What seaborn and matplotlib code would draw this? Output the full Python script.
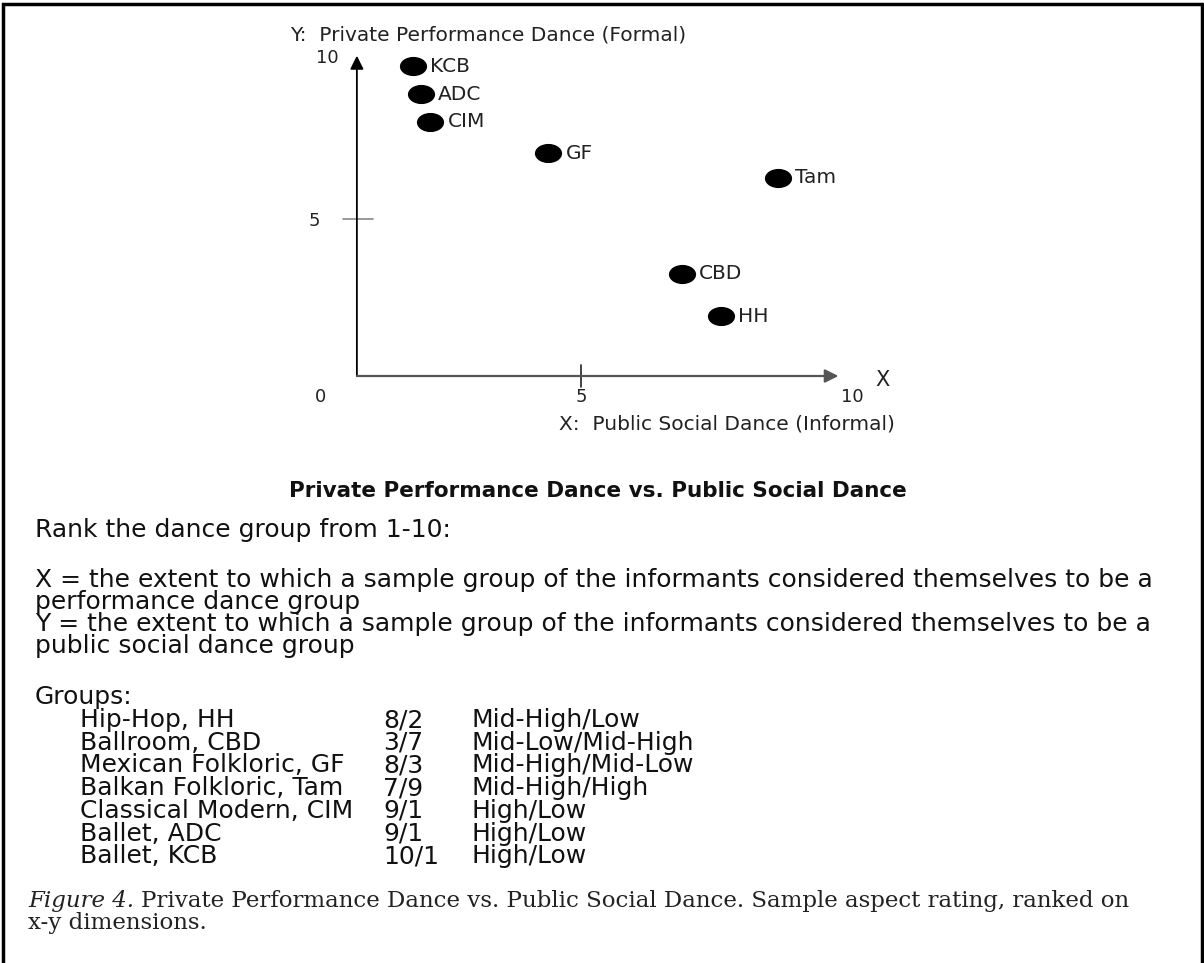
import numpy as np
import pandas as pd
import matplotlib
matplotlib.use("Agg")
import matplotlib.pyplot as plt
import seaborn as sns
from matplotlib.markers import MarkerStyle
from matplotlib.transforms import Affine2D
from matplotlib.patches import Rectangle

# dance groups as placed on the chart (x = public social / informal, y = private performance / formal)
groups = ['KCB', 'ADC', 'CIM', 'GF', 'Tam', 'CBD', 'HH']
x_informal = [1.77, 1.92, 2.10, 4.37, 8.79, 6.94, 7.69]
y_formal = [9.87, 8.98, 8.09, 7.10, 6.31, 3.25, 1.91]

x_ticks = [0, 5, 10]
y_ticks = [5, 10]

table_names = ['Hip-Hop, HH', 'Ballroom, CBD', 'Mexican Folkloric, GF', 'Balkan Folkloric, Tam',
               'Classical Modern, CIM', 'Ballet, ADC', 'Ballet, KCB']
table_ratings = ['8/2', '3/7', '8/3', '7/9', '9/1', '9/1', '10/1']
table_levels = ['Mid-High/Low', 'Mid-Low/Mid-High', 'Mid-High/Mid-Low', 'Mid-High/High',
                'High/Low', 'High/Low', 'High/Low']

df = pd.DataFrame({'group': groups, 'x': x_informal, 'y': y_formal})

sns.set_style('white')
plt.rcParams['font.family'] = 'DejaVu Sans'

W, H = 1204, 963
fig = plt.figure(figsize=(W / 100, H / 100), dpi=100)

def fx(px):
    return px / W

def fy(py):
    return 1 - py / H

# axes placed so that x=0 sits at 321px and y=0 at 376px
ax = fig.add_axes([fx(300), fy(440), 600 / W, 410 / H])
ax.set_xlim((300 - 321) / 52, (900 - 321) / 52)
ax.set_ylim((376 - 440) / 31.4, (376 - 30) / 31.4)
ax.axis('off')

ellipse = MarkerStyle('o', transform=Affine2D().scale(1.42, 1.0))
sns.scatterplot(data=df, x='x', y='y', ax=ax, color='black', s=190,
                marker=ellipse, linewidth=0, legend=False, zorder=3)

for _, row in df.iterrows():
    ax.annotate(row['group'], (row['x'], row['y']), xytext=(12.5, 0),
                textcoords='offset points', va='center', ha='left',
                fontsize=14.5, color='#222')

# hand-drawn style axes with arrows
y_axis_x = 0.69
ax.annotate('', xy=(y_axis_x, 10.2), xytext=(y_axis_x, 0),
            arrowprops=dict(arrowstyle='-|>', color='black', lw=1.3,
                            mutation_scale=20, shrinkA=0, shrinkB=0))
ax.annotate('', xy=(9.95, 0), xytext=(y_axis_x, 0),
            arrowprops=dict(arrowstyle='-|>', color='#555', lw=1.6,
                            mutation_scale=20, shrinkA=0, shrinkB=0))
ax.plot([5, 5], [-0.35, 0.35], color='#222', lw=1.2)
ax.plot([0.42, 1.0], [5, 5], color='#888', lw=1.2)

for t, ha in zip(x_ticks, ['center', 'center', 'left']):
    ax.text(t, -0.68, str(t), ha=ha, va='center', fontsize=13, color='#222')
ax.text(-0.12, 4.94, str(y_ticks[0]), ha='center', va='center', fontsize=13, color='#222')
ax.text(0.13, 10.13, str(y_ticks[1]), ha='center', va='center', fontsize=13, color='#222')
ax.text(10.79, -0.13, 'X', ha='center', va='center', fontsize=15, color='#222')

fig.text(fx(290), fy(35), 'Y:  Private Performance Dance (Formal)', ha='left', va='center',
         fontsize=14.5, color='#222')
fig.text(fx(559), fy(424), 'X:  Public Social Dance (Informal)', ha='left', va='center',
         fontsize=14.5, color='#222')

# text block under the chart
fig.text(fx(598), fy(491), 'Private Performance Dance vs. Public Social Dance', ha='center',
         va='center', fontsize=15.5, fontweight='bold', color='#111')

body = 18
lines = [
    (530, 'Rank the dance group from 1-10:'),
    (580, 'X = the extent to which a sample group of the informants considered themselves to be a'),
    (602, 'performance dance group'),
    (624, 'Y = the extent to which a sample group of the informants considered themselves to be a'),
    (646, 'public social dance group'),
    (697, 'Groups:'),
]
for py, s in lines:
    fig.text(fx(35), fy(py), s, ha='left', va='center', fontsize=body, color='#111')

for i, (name, rating, level) in enumerate(zip(table_names, table_ratings, table_levels)):
    py = 720 + 22.7 * i
    fig.text(fx(80), fy(py), name, ha='left', va='center', fontsize=body, color='#111')
    fig.text(fx(383), fy(py), rating, ha='left', va='center', fontsize=body, color='#111')
    fig.text(fx(472), fy(py), level, ha='left', va='center', fontsize=body, color='#111')

# figure caption (serif, italic lead-in)
cap = 16.5
lead = fig.text(fx(28), fy(901), 'Figure 4.', ha='left', va='center', fontsize=cap,
                family='DejaVu Serif', style='italic', color='#222')
fig.canvas.draw()
bb = lead.get_window_extent()
fig.text(fx(bb.x1 + 7), fy(901),
         'Private Performance Dance vs. Public Social Dance. Sample aspect rating, ranked on',
         ha='left', va='center', fontsize=cap, family='DejaVu Serif', color='#222')
fig.text(fx(28), fy(923), 'x-y dimensions.', ha='left', va='center', fontsize=cap,
         family='DejaVu Serif', color='#222')

# page frame (left, top, right)
fig.patches.append(Rectangle((fx(3), -0.05), 1199 / W, 1.05 - 4 / H, fill=False,
                             lw=2.5, edgecolor='black', transform=fig.transFigure))

fig.savefig('out.png', dpi=100)
